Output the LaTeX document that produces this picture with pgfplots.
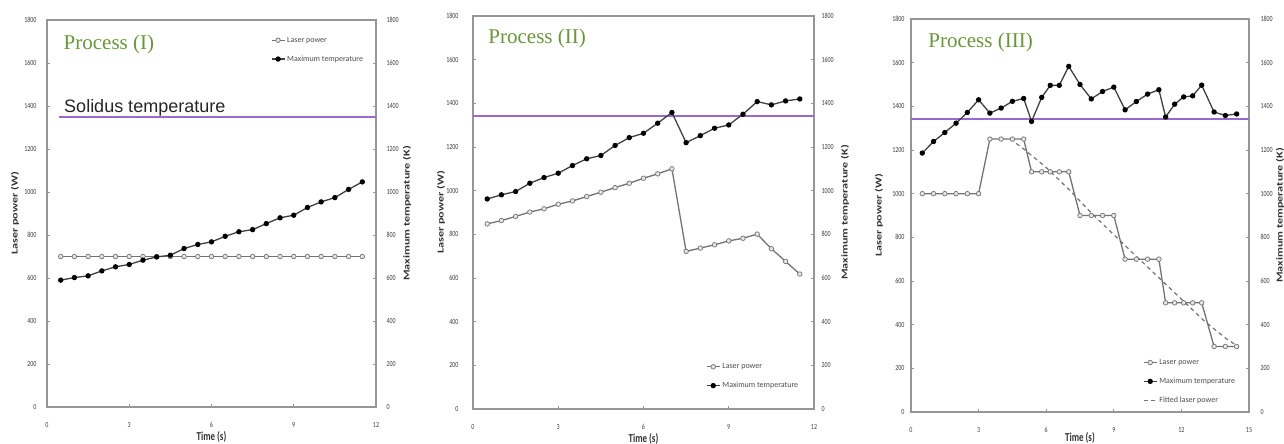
\documentclass[border=0pt]{standalone}
\usepackage{pgfplots}
\pgfplotsset{compat=1.18}
\usepackage{fontspec}
\setmainfont{Carlito}
\newfontfamily\timesf{Liberation Serif}
\newfontfamily\arialf{Liberation Sans}
\definecolor{solpurple}{RGB}{155,105,205}
\definecolor{titlegreen}{RGB}{105,150,60}
\definecolor{framegray}{RGB}{150,150,150}
\definecolor{lpgray}{RGB}{115,115,115}
\pgfplotsset{
  /pgf/number format/1000 sep={},
  panel/.style={scale only axis, ymin=0, ymax=1800, ytick={0,200,...,1800},
    axis line style={framegray, line width=1.3pt},
    tick style={framegray, line width=0.8pt}, major tick length=3pt, tick align=inside,
    tick label style={font=\fontsize{6}{7}\selectfont, text=black!75, yscale=1.3},
    /pgf/number format/assume math mode=true, scaled ticks=false,
    xticklabel style={anchor=center, yshift=-13.5pt},
    every axis x label/.style={at={(rel axis cs:0.5,0)}, anchor=center, yshift=-30pt, font=\fontsize{9}{10}\bfseries, text=black!80, yscale=1.35},
    legend style={draw=none, fill=none, font=\fontsize{8}{9}\selectfont, text=black!70, row sep=8pt, inner sep=0pt, cells={anchor=west}},
    legend cell align=left,
    legend image code/.code={\draw[mark repeat=2,mark phase=2,##1] plot coordinates {(0pt,0pt) (6.5pt,0pt) (13pt,0pt)};},
  },
  leftside/.style={ytick pos=left, xtick pos=bottom, xlabel={Time (s)},
    every axis y label/.style={at={(rel axis cs:0,0.5)}, xshift=-32pt, rotate=90, xscale=1.35, anchor=center, font=\fontsize{9}{10}\bfseries, text=black!80},
    ylabel={Laser power (W)}},
  rightside/.style={scale only axis, ymin=0, ymax=1800, ytick={0,200,...,1800}, xtick=\empty,
    axis line style={draw=none}, ytick pos=right, yticklabel pos=right,
    tick style={framegray, line width=0.8pt}, major tick length=3pt, tick align=inside,
    tick label style={font=\fontsize{6}{7}\selectfont, text=black!75, yscale=1.3},
    /pgf/number format/assume math mode=true, scaled ticks=false,
    yticklabel style={anchor=west},
    every axis y label/.style={at={(rel axis cs:1,0.5)}, xshift=31pt, rotate=90, xscale=1.35, anchor=center, font=\fontsize{9}{10}\bfseries, text=black!80},
    ylabel={Maximum temperature (K)}},
  lp/.style={lpgray, line width=1.3pt, mark=*, mark size=2.3pt, mark options={fill=gray!20, draw=lpgray, line width=0.7pt, solid}},
  mt/.style={black!75, line width=1.3pt, mark=*, mark size=2pt, mark options={fill=black, draw=black, solid}},
  fitl/.style={lpgray, line width=1.2pt, dash pattern=on 4pt off 3.5pt},
  sol/.style={solpurple, line width=2pt},
}
\begin{document}
\begin{tikzpicture}
\useasboundingbox (0,0) rectangle (1284pt,444pt);
% ---------------- Panel I
\begin{axis}[panel, leftside, width=329pt, height=387pt, at={(47pt,37pt)}, anchor=south west,
  xmin=0, xmax=12, xtick={0,3,6,9,12}, yticklabel style={anchor=east, xshift=-7pt},
  legend style={at={(0.68,0.962)}, anchor=north west}]
\addplot[sol, forget plot] coordinates {(0.45,1350) (12,1350)};
\addplot[lp] coordinates {(0.5,700) (1,700) (1.5,700) (2,700) (2.5,700) (3,700) (3.5,700) (4,700) (4.5,700) (5,700) (5.5,700) (6,700) (6.5,700) (7,700) (7.5,700) (8,700) (8.5,700) (9,700) (9.5,700) (10,700) (10.5,700) (11,700) (11.5,700)};
\addlegendentry{Laser power}
\addplot[mt] coordinates {(0.5,590) (1,602) (1.5,610) (2,633) (2.5,652) (3,663) (3.5,683) (4,698) (4.5,706) (5,737) (5.5,756) (6,768) (6.5,794) (7,815) (7.5,825) (8,853) (8.5,880) (9,892) (9.5,928) (10,954) (10.5,974) (11,1012) (11.5,1047)};
\addlegendentry{Maximum temperature}
\node[anchor=west, font=\timesf\fontsize{21}{24}\selectfont, text=titlegreen] at (rel axis cs:0.04,0.938) {Process (I)};
\node[anchor=base west, font=\arialf\fontsize{18}{20}\selectfont, text=black!85] at (axis cs:0.5,1350) [yshift=4pt] {Solidus temperature};
\end{axis}
\begin{axis}[rightside, width=329pt, height=387pt, at={(47pt,37pt)}, anchor=south west, xmin=0, xmax=12, yticklabel style={xshift=7pt}]
\addplot[draw=none] coordinates {(1,1)};
\end{axis}
% ---------------- Panel II
\begin{axis}[panel, leftside, width=341pt, height=393pt, at={(473pt,35pt)}, anchor=south west,
  xmin=0, xmax=12, xtick={0,3,6,9,12}, yticklabel style={anchor=east, xshift=-11pt},
  legend style={at={(0.683,0.045)}, anchor=south west}]
\addplot[sol, forget plot] coordinates {(0,1340) (12,1340)};
\addplot[lp] coordinates {(0.5,848) (1,863) (1.5,882) (2,902) (2.5,917) (3,938) (3.5,953) (4,973) (4.5,993) (5,1014) (5.5,1034) (6,1057) (6.5,1077) (7,1100) (7.5,722) (8,737) (8.5,752) (9,770) (9.5,782) (10,801) (10.5,734) (11,676) (11.5,618)};
\addlegendentry{Laser power}
\addplot[mt] coordinates {(0.5,962) (1,981) (1.5,996) (2,1034) (2.5,1060) (3,1080) (3.5,1115) (4,1146) (4.5,1161) (5,1207) (5.5,1243) (6,1263) (6.5,1309) (7,1358) (7.5,1220) (8,1252) (8.5,1286) (9,1301) (9.5,1350) (10,1408) (10.5,1393) (11,1411) (11.5,1420)};
\addlegendentry{Maximum temperature}
\node[anchor=west, font=\timesf\fontsize{21}{24}\selectfont, text=titlegreen] at (rel axis cs:0.035,0.944) {Process (II)};
\end{axis}
\begin{axis}[rightside, width=341pt, height=393pt, at={(473pt,35pt)}, anchor=south west, xmin=0, xmax=12, yticklabel style={xshift=4pt}]
\addplot[draw=none] coordinates {(1,1)};
\end{axis}
% ---------------- Panel III
\begin{axis}[panel, leftside, width=338pt, height=393pt, at={(911pt,32pt)}, anchor=south west,
  xmin=0, xmax=15, xtick={0,3,6,9,12,15}, yticklabel style={anchor=east, xshift=-3pt},
  xlabel style={yshift=3pt},
  legend style={at={(0.686,0.015)}, anchor=south west}]
\addplot[sol, forget plot] coordinates {(0,1340) (15,1340)};
\addplot[lp] coordinates {(0.5,1000) (1,1000) (1.5,1000) (2,1000) (2.5,1000) (3,1000) (3.5,1250) (4,1250) (4.5,1250) (5,1250) (5.35,1100) (5.8,1100) (6.18,1100) (6.58,1100) (7,1100) (7.5,900) (8,900) (8.5,900) (9,900) (9.5,700) (10,700) (10.5,700) (11,700) (11.3,500) (11.7,500) (12.1,500) (12.5,500) (12.9,500) (13.45,300) (13.95,300) (14.45,300)};
\addlegendentry{Laser power}
\addplot[mt] coordinates {(0.5,1186) (1,1239) (1.5,1280) (2,1323) (2.5,1372) (3,1430) (3.5,1369) (4,1392) (4.5,1423) (5,1436) (5.35,1331) (5.8,1441) (6.18,1496) (6.58,1496) (7,1583) (7.5,1500) (8,1434) (8.5,1468) (9,1488) (9.5,1384) (10,1422) (10.5,1456) (11,1476) (11.3,1351) (11.7,1410) (12.1,1443) (12.5,1448) (12.9,1497) (13.45,1374) (13.95,1358) (14.45,1365)};
\addlegendentry{Maximum temperature}
\addplot[fitl] coordinates {(4.4,1250) (5,1205) (6,1120) (7,1020) (8,912) (9,812) (10,713) (11,615) (12,517) (13,418) (14,335) (14.45,305)};
\addlegendentry{Fitted laser power}
\node[anchor=west, font=\timesf\fontsize{21}{24}\selectfont, text=titlegreen] at (rel axis cs:0.041,0.94) {Process (III)};
\end{axis}
\begin{axis}[rightside, width=338pt, height=393pt, at={(911pt,32pt)}, anchor=south west, xmin=0, xmax=15, yticklabel style={xshift=8pt}]
\addplot[draw=none] coordinates {(1,1)};
\end{axis}
\end{tikzpicture}
\end{document}
